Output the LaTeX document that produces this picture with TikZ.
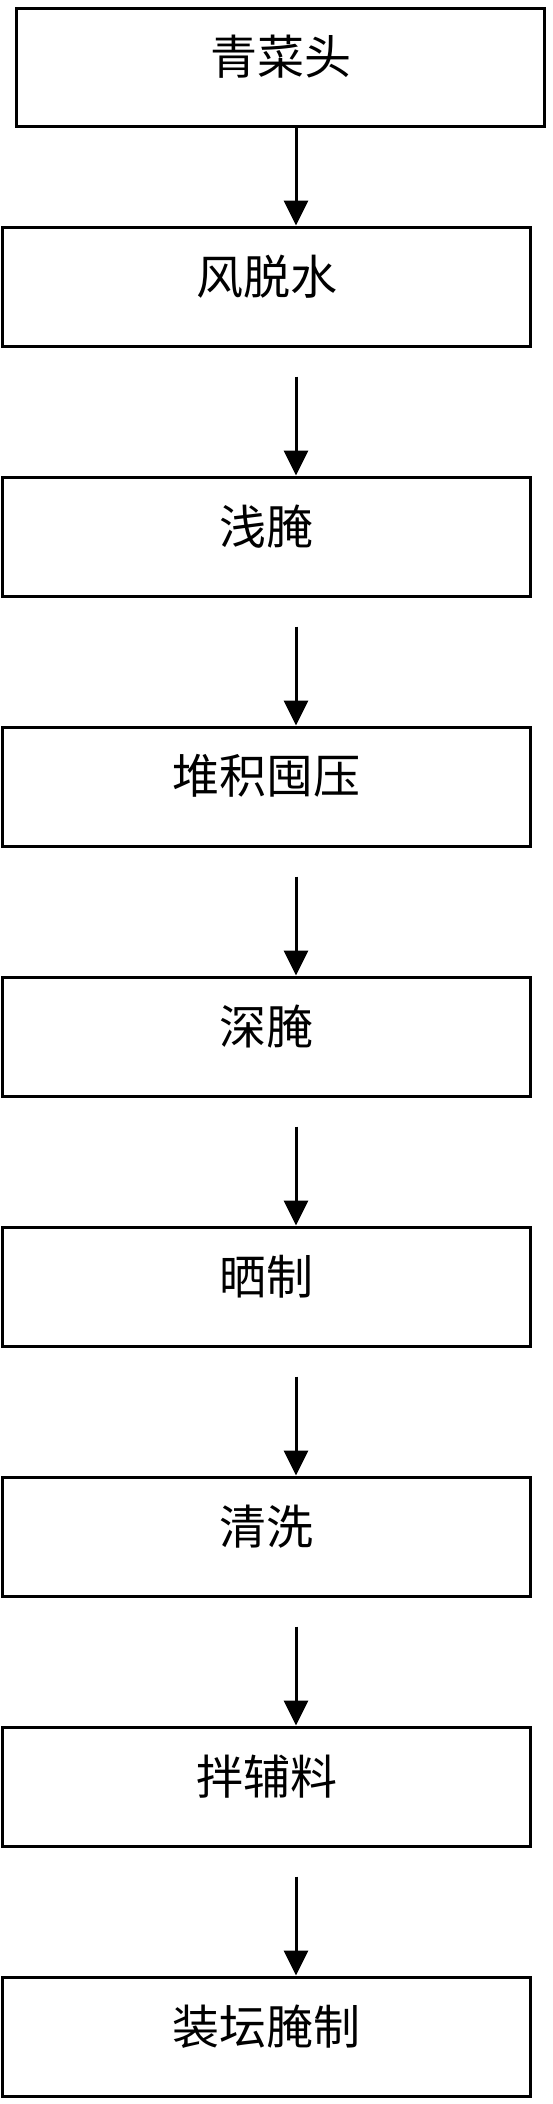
\documentclass[tikz,border=0pt]{standalone}
\usepackage{fontspec}
\newfontfamily\cjk{Noto Sans CJK SC}
\usetikzlibrary{arrows.meta,calc}
\begin{document}
\begin{tikzpicture}[x=1pt,y=-1pt,
  box/.style={draw,line width=3pt,minimum width=528pt,minimum height=119.5pt,inner sep=0pt},
  lbl/.style={font=\cjk\fontsize{47}{56}\selectfont,inner sep=0pt},
  arr/.style={line width=3pt,-{Triangle[width=24pt,length=25pt]}}]
\fill[white] (0,0) rectangle (552,2104);
\useasboundingbox (0,0) rectangle (552,2104);
\coordinate (axis) at (296,0);
\node[box,minimum height=118pt] (b1) at (280.8,67.3) {};
\node[lbl] (t1) at ([yshift=10.5pt]b1.center) {青菜头};
\foreach \i/\t in {2/风脱水,3/浅腌,4/堆积囤压,5/深腌,6/晒制,7/清洗,8/拌辅料,9/装坛腌制}{
  \node[box] (b\i) at (266.5,{286.75+250*(\i-2)}) {};
  \node[lbl] (t\i) at ([yshift=10.5pt]b\i.center) {\t};
}
\draw[arr] (b1.south -| axis) -- (b2.north -| axis);
\foreach \i [evaluate=\i as \j using int(\i+1)] in {2,...,8}{
  \draw[arr] ([yshift=-28.5pt]b\i.south -| axis) -- (b\j.north -| axis);
}
\end{tikzpicture}
\end{document}
